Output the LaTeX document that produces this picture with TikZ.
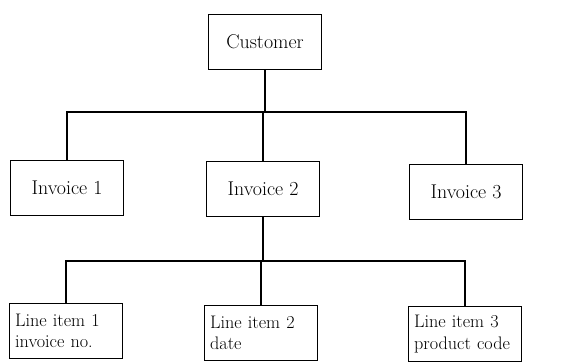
\documentclass[tikz,border=0pt]{standalone}
\usetikzlibrary{positioning}
\tikzset{
  box/.style={draw, line width=1.2pt, minimum width=3.4cm, minimum height=1.65cm,
    font=\fontsize{17}{19}\selectfont},
  itembox/.style={box, text width=3.05cm, align=left, inner sep=0.17cm,
    font=\fontsize{15.5}{18.5}\selectfont},
  link/.style={line width=1.2pt}
}
\begin{document}
\begin{tikzpicture}[x=0.03cm,y=-0.03cm]
\useasboundingbox (0,0) rectangle (579,363);
\node [box] (cust) at (265,42) {Customer};
\node [box] (inv1) at (67,188) {Invoice 1};
\node [box] (inv2) at (263,189) {Invoice 2};
\node [box] (inv3) at (466,192) {Invoice 3};
\node [itembox] (item1) at (66,331) {Line item 1\\invoice no.};
\node [itembox] (item2) at (261,333) {Line item 2\\date};
\node [itembox] (item3) at (465,334) {Line item 3\\product code};
\coordinate (bar1) at (265,112);
\coordinate (bar2) at (263,261);
\draw [link] (cust.south) -- (bar1);
\draw [link] (inv1.north) |- (bar1) -| (inv3.north);
\draw [link] (inv2.north) -- (bar1 -| inv2.north);
\draw [link] (inv2.south) -- (bar2);
\draw [link] (item1.north) |- (bar2) -| (item3.north);
\draw [link] (item2.north) -- (bar2 -| item2.north);
\end{tikzpicture}
\end{document}
